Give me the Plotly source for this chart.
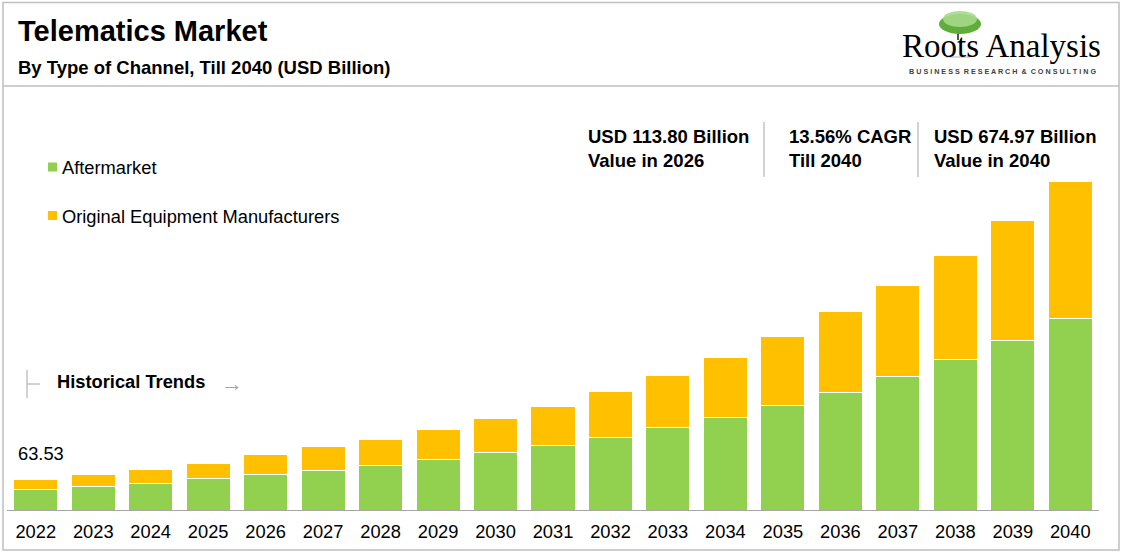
import plotly.graph_objects as go

# Valores (USD Bilhões)
anos = ['2022', '2023', '2024', '2025', '2026', '2027', '2028', '2029', '2030', '2031',
        '2032', '2033', '2034', '2035', '2036', '2037', '2038', '2039', '2040']
aftermarket = [42.40, 48.7, 54.8, 63.7, 72.5, 80.7, 90.4, 104.1, 117.7, 132.0,
               148.5, 169.0, 189.5, 215.0, 241.7, 273.7, 308.6, 347.7, 392.8]
oem = [21.13, 23.2, 29.4, 32.8, 41.30, 48.7, 54.8, 61.6, 71.2, 80.9,
       95.2, 107.6, 124.1, 142.3, 164.9, 187.7, 214.4, 247.2, 282.17]
nomes_series = ['Aftermarket', 'Original Equipment Manufacturers']
cores = ['#92D050', '#FFC000']

totais = [a + o for a, o in zip(aftermarket, oem)]
idx_2026 = anos.index('2026')
valor_2026 = totais[idx_2026]
valor_2040 = totais[-1]
cagr = (valor_2040 / valor_2026) ** (1 / (len(anos) - 1 - idx_2026)) - 1

FONTE = 'Liberation Sans, Arial, sans-serif'
W, H = 1123, 553
ESQ, DIR, TOPO, BASE = 7, 1099, 100, 510


# converte pixel da imagem para coordenadas "paper"
def px(x, y):
    return (x - ESQ) / (DIR - ESQ), (BASE - y) / (BASE - TOPO)


fig = go.Figure()
fig.add_trace(go.Bar(x=anos, y=aftermarket, name=nomes_series[0],
                     marker=dict(color=cores[0], line=dict(color='white', width=1))))
fig.add_trace(go.Bar(x=anos, y=oem, name=nomes_series[1],
                     marker=dict(color=cores[1], line=dict(color='white', width=1))))

shapes = []
annotations = []


def linha(x0, y0, x1, y1, cor='#A6A6A6', largura=1):
    a, b = px(x0, y0)
    c, d = px(x1, y1)
    shapes.append(dict(type='line', xref='paper', yref='paper', x0=a, y0=b, x1=c, y1=d,
                       line=dict(color=cor, width=largura)))


def elipse(x0, y0, x1, y1, cor, opacidade=1.0):
    a, b = px(x0, y1)
    c, d = px(x1, y0)
    shapes.append(dict(type='circle', xref='paper', yref='paper', x0=a, y0=b, x1=c, y1=d,
                       fillcolor=cor, line=dict(width=0), opacity=opacidade))


def texto(x, y, txt, tamanho=18, negrito=False, cor='black', ancora='left', familia=FONTE):
    a, b = px(x, y)
    if negrito:
        txt = '<b>' + txt + '</b>'
    annotations.append(dict(xref='paper', yref='paper', x=a, y=b, text=txt, showarrow=False,
                            xanchor=ancora, yanchor='middle', align='left',
                            font=dict(family=familia, size=tamanho, color=cor)))


# moldura e linha do cabeçalho
a, b = px(3, 550)
c, d = px(1119, 2.5)
shapes.append(dict(type='rect', xref='paper', yref='paper', x0=a, y0=b, x1=c, y1=d,
                   line=dict(color='#BFBFBF', width=1.5)))
linha(3, 86, 1119, 86, cor='#BFBFBF', largura=1.5)

# títulos
texto(16, 31, 'Telematics Market', tamanho=29, negrito=True)
texto(16, 68, 'By Type of Channel, Till 2040 (USD Billion)', tamanho=18.5, negrito=True)

# logo
linha(958, 28, 958, 40, cor='#555555', largura=2)
linha(946, 57, 970, 57, cor='#B0B0B0', largura=1)
elipse(939, 14, 981, 34, '#5FAE3A')
elipse(943, 11, 977, 27, '#A6D98A', 0.9)
texto(1001, 46, 'Roots Analysis', tamanho=33, familia='Liberation Serif, serif', ancora='center')
texto(1002, 72, '  '.join(' '.join(p) for p in 'BUSINESS RESEARCH & CONSULTING'.split(' ')),
      tamanho=7.2, negrito=True, cor='#404040', ancora='center')

# destaques
texto(586, 148, f'USD {valor_2026:.2f} Billion<br>Value in 2026', tamanho=18.5, negrito=True)
texto(787, 148, f'{cagr * 100:.2f}% CAGR<br>Till 2040', tamanho=18.5, negrito=True)
texto(932, 148, f'USD {valor_2040:.2f} Billion<br>Value in 2040', tamanho=18.5, negrito=True)
linha(764, 122, 764, 177)
linha(918, 122, 918, 177)

# legenda manual
for i, (nome, cor) in enumerate(zip(nomes_series, cores)):
    yc = 167 + i * 48.5
    a, b = px(48, yc + 4.5)
    c, d = px(57, yc - 4.5)
    shapes.append(dict(type='rect', xref='paper', yref='paper', x0=a, y0=b, x1=c, y1=d,
                       fillcolor=cor, line=dict(width=0)))
    texto(60, yc + 0.5, nome, tamanho=18.3)

# tendências históricas
linha(27, 370, 27, 398)
linha(27, 384, 40, 384)
texto(55, 381, 'Historical Trends', negrito=True, tamanho=18.3)
texto(219, 383, '→', tamanho=22, cor='#A6A6A6')

# rótulo do primeiro ano (x pelo índice da categoria)
annotations.append(dict(x=0, y=totais[0], text=f'{totais[0]:.2f}', showarrow=False,
                        xanchor='center', yanchor='middle', yshift=26, xshift=5,
                        font=dict(family=FONTE, size=18.3, color='black')))

fig.update_layout(
    width=W, height=H,
    barmode='stack', bargap=0.234,
    showlegend=False,
    plot_bgcolor='white', paper_bgcolor='white',
    margin=dict(l=ESQ, r=W - DIR, t=TOPO, b=H - BASE, pad=0, autoexpand=False),
    font=dict(family=FONTE, color='black'),
    xaxis=dict(type='category', range=[-0.5, len(anos) - 0.5], automargin=False,
               showgrid=False, showline=True, linecolor='#A6A6A6', linewidth=1,
               ticks='outside', ticklen=5, tickcolor='rgba(0,0,0,0)',
               tickfont=dict(family=FONTE, size=18.3, color='black'), fixedrange=True),
    yaxis=dict(visible=False, range=[0, (BASE - TOPO) * 674.97 / 328.7], fixedrange=True,
               automargin=False),
    shapes=shapes,
    annotations=annotations,
)

# remove a margem padrão do <body> para a figura ocupar a janela inteira
fig.write_html('out.html', config={'displayModeBar': False},
               post_script="document.body.style.margin='0';")
